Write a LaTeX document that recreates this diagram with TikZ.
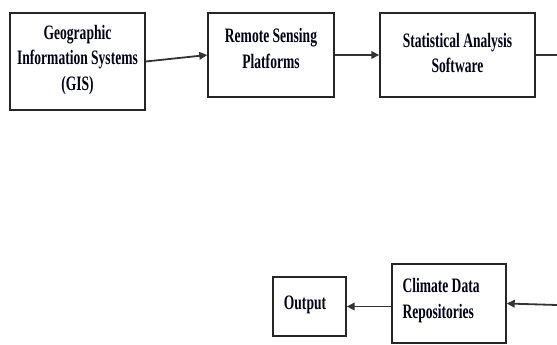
\documentclass[tikz,border=0pt]{standalone}
\usepackage{fontspec}
\setmainfont{Liberation Serif}[BoldFeatures={FakeStretch=0.66}]
\usetikzlibrary{arrows.meta}
\begin{document}
\begin{tikzpicture}[x=1pt,y=1pt,
  box/.style={draw=black!85, line width=1.4pt, inner sep=0pt},
  lbl/.style={font=\fontsize{20.5}{25.5}\selectfont\bfseries, align=center, text=black!90!blue},
  conn/.style={draw=black!80, line width=1.8pt},
  arr/.style={conn, -{Triangle[length=8pt,width=7.5pt]}}]
\useasboundingbox (0,0) rectangle (557,-345);
% boxes
\node[box, minimum width=135pt, minimum height=97pt] (gis) at (77.5,-61.5) {};
\node[lbl] (gist) at (77.5,-60) {Geographic\\Information Systems\\(GIS)};
\node[box, minimum width=126pt, minimum height=84pt] (rsp) at (271,-55) {};
\node[lbl] (rspt) at (271,-48.5) {Remote Sensing\\Platforms};
\node[box, minimum width=155pt, minimum height=84pt] (sas) at (457.5,-55) {};
\node[lbl] (sast) at (457.5,-53) {Statistical Analysis\\Software};
\node[box, minimum width=114pt, minimum height=79pt] (cdr) at (449,-303.5) {};
\node[lbl, align=left, anchor=west] (cdrt) at (399,-300.5) {Climate Data\\Repositories};
\node[box, minimum width=73pt, minimum height=59pt] (out) at (309.5,-306.5) {};
\node[lbl] (outt) at (305,-305) {Output};
% connectors
\coordinate (r1) at (557,-55);
\coordinate (r2) at (557,-305);
\draw[arr] (gis.east) -- (rsp.west);
\draw[arr] (rsp.east) -- (sas.west);
\draw[conn] (sas.east) -- (r1);
\draw[arr] (r2) -- (cdr.east);
\draw[arr] ([yshift=-3pt]cdr.west) -- (out.east);
\end{tikzpicture}
\end{document}
